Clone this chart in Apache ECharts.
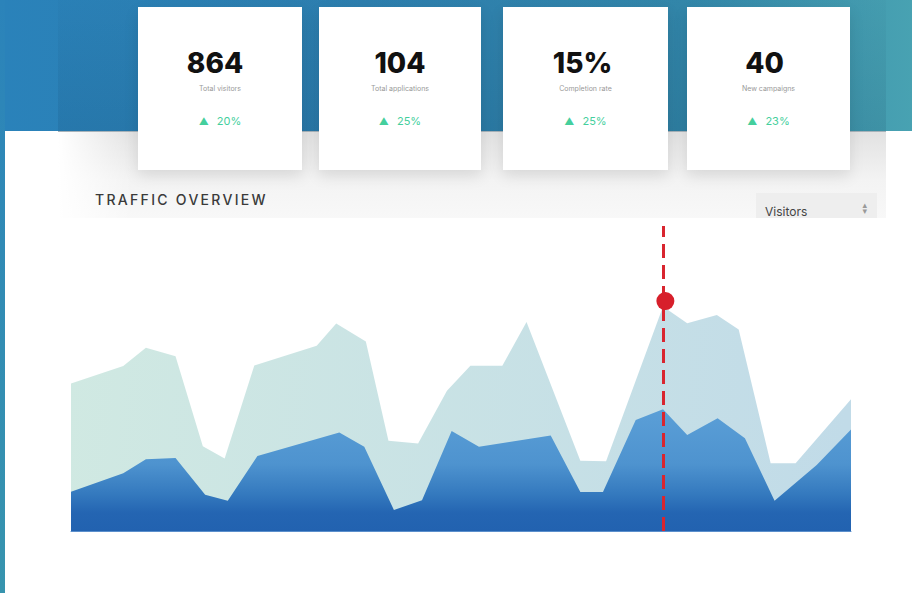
<!DOCTYPE html>
<html>
<head>
<meta charset="utf-8">
<script src="https://cdn.jsdelivr.net/npm/echarts@6/dist/echarts.min.js"></script>
<style>
  html, body { margin:0; padding:0; }
  body { width:912px; height:593px; position:relative; overflow:hidden; font-family:Inter, "DejaVu Sans", sans-serif; }
  .abs { position:absolute; }
  #bg { left:0; top:0; width:912px; height:593px;
        background:linear-gradient(90deg,#2a82ba 0%,#2e80b0 40%,#3388ab 75%,#48a2b2 100%); }
  #strip { left:0; top:0; width:5px; height:593px; background:linear-gradient(180deg,#2b83ba,#3794ae); z-index:3; }
  #hdr { left:58px; top:0; width:828px; height:131px; background:linear-gradient(180deg,rgba(0,30,60,0.02),rgba(0,30,60,0.1)); }
  #panel { left:5px; top:131px; width:907px; height:462px; background:#fff; }
  #band { left:58px; top:131px; width:828px; height:87px; border-top:1px solid #a7b2b9;
          background:linear-gradient(90deg,#fff 0,rgba(255,255,255,0) 9%),linear-gradient(180deg,#e2e2e2 0%,#f3f3f3 55%,#f8f8f8 100%); }
  .card { top:7px; height:163px; background:#fff; box-shadow:0 6px 14px rgba(0,0,0,0.10); text-align:center; }
  .num { position:absolute; left:0; right:0; top:42px; font-size:28px; font-weight:800; color:#111; line-height:28px; }
  .lbl { position:absolute; left:0; right:0; top:77px; font-size:7px; color:#999; }
  .chg { position:absolute; left:0; right:0; top:107px; font-size:11px; color:#45cf9d; }
  .chg span { font-size:10px; margin-right:8px; }
  #title { left:95px; top:191px; font-size:14px; font-weight:500; letter-spacing:2.3px; color:#3a3a3a; }
  #dd { left:756px; top:193px; width:121px; height:25px; background:#eeeeee; overflow:hidden; }
  #dd .t { position:absolute; left:9px; top:11px; font-size:12px; color:#444; }
  #dd .a { position:absolute; right:10px; top:9px; font-size:9px; color:#999; line-height:6px; }
  #main { left:0; top:218px; width:912px; height:375px; }
</style>
</head>
<body>
<div id="bg" class="abs"></div>
<div id="hdr" class="abs"></div>
<div id="panel" class="abs"></div>
<div id="band" class="abs"></div>

<div class="abs card" style="left:138px;width:164px;"><div class="num" style="left:-10px">864</div><div class="lbl">Total visitors</div><div class="chg"><span>▲</span>20%</div></div>
<div class="abs card" style="left:319px;width:162px;"><div class="num">104</div><div class="lbl">Total applications</div><div class="chg"><span>▲</span>25%</div></div>
<div class="abs card" style="left:503px;width:165px;"><div class="num" style="left:-6px">15%</div><div class="lbl">Completion rate</div><div class="chg"><span>▲</span>25%</div></div>
<div class="abs card" style="left:687px;width:163px;"><div class="num" style="left:-8px">40</div><div class="lbl">New campaigns</div><div class="chg"><span>▲</span>23%</div></div>

<div id="title" class="abs">TRAFFIC OVERVIEW</div>
<div id="dd" class="abs"><div class="t">Visitors</div><div class="a">▴<br>▾</div></div>

<div id="main" class="abs"></div>
<div id="strip" class="abs"></div>

<script type="text/javascript">
// traffic overview, two area series (x = time 0..100, y = visitors)
var totalX = [0, 6.7, 9.6, 13.4, 16.9, 19.7, 23.5, 31.5, 34.0, 37.8, 40.7, 44.5, 48.2, 51.2, 55.3, 58.4, 65.3, 68.6, 75.9, 79.0, 82.8, 85.6, 89.7, 92.9, 100];
var totalY = [484, 541, 601, 573, 278, 238, 543, 607, 680, 621, 296, 287, 460, 542, 542, 685, 230, 229, 736, 681, 708, 661, 222, 222, 432];
var visitX = [0, 6.7, 9.6, 13.4, 17.2, 20.1, 23.9, 34.4, 37.6, 41.4, 45.0, 48.8, 52.3, 61.5, 65.3, 68.2, 72.4, 75.9, 79.0, 82.9, 86.4, 90.2, 95.6, 100];
var visitY = [129, 189, 235, 239, 119, 99, 246, 323, 276, 69, 101, 328, 276, 313, 128, 128, 364, 399, 315, 370, 304, 99, 216, 333];
var markX = 75.9;
var markPoint = [76.2, 754];

function pairs(xs, ys) {
    var out = [];
    for (var i = 0; i < xs.length; i++) out.push([xs[i], ys[i]]);
    return out;
}

var myChart = echarts.init(document.getElementById('main'));
var option = {
    backgroundColor: '#fff',
    animation: false,
    grid: { left: 71, right: 61, top: 8, bottom: 62 },
    xAxis: {
        type: 'value', min: 0, max: 100,
        axisLine: { show: true, lineStyle: { color: '#5b8fcc', width: 1 } },
        axisTick: { show: false }, axisLabel: { show: false }, splitLine: { show: false }
    },
    yAxis: {
        type: 'value', min: 0, max: 1000,
        axisLine: { show: false }, axisTick: { show: false }, axisLabel: { show: false }, splitLine: { show: false }
    },
    series: [
        {
            name: 'Total',
            type: 'line',
            data: pairs(totalX, totalY),
            symbol: 'none',
            lineStyle: { width: 0 },
            areaStyle: {
                opacity: 1,
                color: new echarts.graphic.LinearGradient(0, 0, 1, 0.3, [
                    { offset: 0, color: '#d0e9e2' },
                    { offset: 1, color: '#c1dbe8' }
                ])
            },
            markLine: {
                silent: true,
                symbol: 'none',
                label: { show: false },
                lineStyle: { color: '#d9252f', width: 3, type: [14, 7] },
                data: [{ xAxis: markX }]
            }
        },
        {
            name: 'Visitors',
            type: 'line',
            data: pairs(visitX, visitY),
            symbol: 'none',
            lineStyle: { width: 0 },
            areaStyle: {
                opacity: 1,
                color: new echarts.graphic.LinearGradient(0, 0, 0, 1, [
                    { offset: 0, color: '#5b9fd7' },
                    { offset: 0.45, color: '#4e93cf' },
                    { offset: 0.7, color: '#3479be' },
                    { offset: 0.85, color: '#2465b2' },
                    { offset: 1, color: '#2262b0' }
                ])
            }
        },
        {
            name: 'Selected',
            type: 'scatter',
            data: [markPoint],
            symbolSize: 18,
            itemStyle: { color: '#d71f2b', opacity: 1 },
            z: 5
        }
    ]
};
myChart.setOption(option);
</script>
</body>
</html>
